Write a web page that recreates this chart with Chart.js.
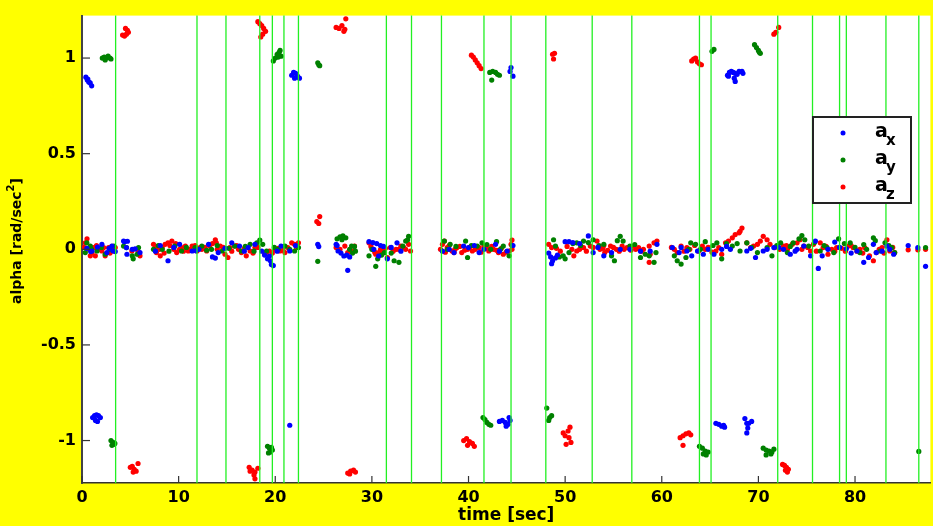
<!DOCTYPE html>
<html lang="en">
<head>
<meta charset="UTF-8" />
<title>alpha vs time</title>
<script src="https://cdn.jsdelivr.net/npm/chart.js"></script>
<style>
  html, body { margin: 0; padding: 0; background: #ffff00; }
  canvas { display: block; }
</style>
</head>
<body>
<canvas id="chart" width="933" height="526"></canvas>
<script>
// axis ticks
const xTicks = [0, 10, 20, 30, 40, 50, 60, 70, 80];
const yTicks = [-1, -0.5, 0, 0.5, 1];

// segment boundaries (green vertical lines), seconds
const segmentTimes = [3.48, 11.9, 14.9, 18.4, 19.7, 20.9, 22.4, 31.5, 34.1, 37.2, 41.6, 44.4,
  48.0, 52.8, 56.9, 63.9, 65.1, 72.0, 75.6, 78.4, 79.1, 83.2, 86.6];

// [time, alpha] samples
const ax = [
  [0.4,0.90],[0.55,0.885],[0.7,0.875],[0.85,0.87],[1.0,0.855],[0.6,0.89],
  [21.7,0.91],[21.9,0.925],[22.1,0.92],[22.3,0.905],[22.0,0.895],[22.5,0.895],
  [44.4,0.95],[44.3,0.93],[44.6,0.905],
  [66.8,0.91],[67.0,0.925],[67.2,0.93],[67.4,0.925],[67.6,0.92],[67.8,0.915],[68.0,0.93],[68.3,0.93],[67.5,0.895],[66.9,0.905],[68.4,0.92],[67.6,0.878],
  [1.1,-0.88],[1.3,-0.87],[1.5,-0.865],[1.7,-0.87],[1.4,-0.895],[1.6,-0.9],[1.9,-0.88],[21.5,-0.92],
  [43.2,-0.9],[43.5,-0.895],[43.8,-0.905],[44.1,-0.915],[44.3,-0.895],[44.2,-0.88],[43.9,-0.925],
  [65.6,-0.91],[65.9,-0.915],[66.2,-0.925],[66.5,-0.93],[66.4,-0.92],
  [68.6,-0.885],[68.8,-0.91],[69.0,-0.91],[69.3,-0.9],[68.9,-0.935],[68.8,-0.96],
  [2.06,0.026],[3.1,0.017],[3.44,-0.012],[1.03,-0.009],[2.58,-0.017],[0.9,-0.012],[3.2,-0.008],
  [0.5,0.005],[1.6,0.012],[2.8,0.005],
  [4.4,0.04],[4.7,0.042],[4.3,0.043],[4.6,0.009],[5.2,0.0],[5.5,0.002],[6.0,-0.017],[4.65,-0.026],
  [8.1,0.02],[8.9,-0.06],[10.1,0.026],[11.4,-0.009],[11.8,-0.008],[13.1,0.026],[13.5,-0.04],[13.8,-0.046],[14.1,-0.017],
  [15.5,0.034],[16.3,0.017],[17.2,0.009],[17.9,0.026],
  [7.6,-0.01],[9.5,0.01],[12.1,0.0],[14.8,0.005],[16.8,-0.01],
  [18.6,-0.01],[18.9,-0.03],[19.2,-0.05],[19.5,-0.06],[19.6,-0.08],[19.8,-0.085],[19.4,-0.035],[20.6,0.017],[21.5,-0.009],
  [20.2,-0.01],[22.1,0.02],
  [24.4,0.026],[24.5,0.014],
  [26.3,0.026],[26.4,0.02],[26.5,-0.009],[26.8,-0.02],[27.1,-0.035],[27.4,-0.03],[27.7,-0.04],[27.5,-0.11],
  [29.7,0.04],[30.1,0.035],[30.5,0.03],[30.9,0.02],[31.2,0.015],[31.6,-0.05],[32.6,0.034],[33.0,-0.01],[30.7,-0.035],
  [30.2,0.0],[32.0,0.01],
  [37.3,-0.01],[38.5,-0.017],[39.5,0.017],[40.0,0.009],[41.1,-0.017],[42.8,0.026],[44.0,-0.009],
  [38.0,0.0],[40.6,0.02],[41.6,0.0],[43.2,-0.01],[44.6,0.02],
  [48.3,-0.02],[48.5,-0.04],[48.7,-0.06],[48.6,-0.075],[49.0,-0.045],[49.2,-0.03],
  [50.0,0.04],[50.4,0.04],[50.8,0.035],[52.4,0.07],[52.9,-0.017],[54.0,-0.034],[54.8,-0.017],[56.7,0.0],[57.8,-0.01],
  [51.5,0.03],[53.4,0.01],[55.7,0.0],
  [58.8,-0.01],[59.5,0.026],
  [61.1,0.009],[61.8,-0.017],[62.6,-0.009],[63.1,-0.034],[63.7,-0.009],[64.3,-0.026],[65.4,-0.026],[66.2,0.0],[67.1,0.0],
  [68.8,-0.009],[69.7,-0.043],[70.5,-0.009],[71.6,0.009],[72.6,0.0],[73.3,-0.026],[74.0,0.0],[74.7,0.017],[75.4,-0.034],
  [75.9,0.043],[76.2,-0.1],[76.6,-0.034],[77.2,0.0],[77.9,0.038],[79.1,0.003],[80.2,-0.009],[80.9,-0.068],[81.4,-0.043],
  [81.9,0.026],[82.2,-0.017],[83.3,0.017],[84.0,-0.026],
  [62.0,0.01],[64.8,0.0],[66.7,0.015],[69.2,0.005],[70.9,0.0],[72.1,0.01],[73.8,-0.01],[78.4,0.01],[79.6,-0.02],[82.8,-0.01],[83.6,0.0],
  [85.5,0.02],[86.5,0.009],[87.3,-0.089]
];

const ay = [
  [2.1,1.0],[2.3,1.005],[2.5,1.0],[2.7,1.01],[2.9,1.0],[3.0,0.995],[2.4,0.99],
  [19.8,0.985],[20.0,1.0],[20.2,1.02],[20.4,1.03],[20.5,1.04],[20.6,1.01],[20.3,1.005],
  [24.4,0.975],[24.6,0.96],[24.5,0.965],
  [42.2,0.925],[42.5,0.93],[42.8,0.925],[43.0,0.915],[43.2,0.91],[42.4,0.885],
  [65.2,1.035],[65.4,1.045],
  [69.6,1.07],[69.8,1.055],[70.0,1.04],[70.1,1.03],[70.2,1.025],
  [3.0,-1.0],[3.2,-1.01],[3.3,-1.02],[3.1,-1.025],[3.4,-1.015],
  [19.2,-1.03],[19.4,-1.04],[19.6,-1.035],[19.5,-1.06],[19.7,-1.05],[19.3,-1.065],
  [41.5,-0.88],[41.7,-0.89],[41.9,-0.905],[42.1,-0.915],[42.3,-0.92],
  [48.1,-0.83],[48.4,-0.88],[48.6,-0.87],[48.3,-0.895],
  [63.9,-1.03],[64.2,-1.04],[64.5,-1.055],[64.8,-1.06],[64.3,-1.07],[64.6,-1.075],
  [70.5,-1.04],[70.8,-1.05],[71.1,-1.055],[71.4,-1.06],[71.6,-1.045],[70.8,-1.075],[71.3,-1.07],
  [86.6,-1.057],
  [0.34,-0.017],[0.86,0.017],[1.55,-0.009],[2.4,-0.026],[2.9,0.0],[3.3,0.017],[0.5,0.034],[1.0,0.0],[2.0,0.01],
  [4.3,0.017],[4.6,0.009],[5.2,-0.034],[5.3,-0.05],[5.85,0.009],[5.7,-0.026],
  [7.4,0.0],[8.3,0.0],[9.6,0.017],[10.3,-0.009],[11.7,0.009],[12.4,0.017],[13.4,0.0],[14.5,-0.009],[15.8,0.017],
  [16.5,-0.009],[17.4,0.026],[18.1,0.034],[18.4,0.048],
  [7.9,0.02],[9.0,-0.01],[10.8,0.01],[12.9,-0.005],[14.0,0.02],[15.2,0.005],[16.9,0.015],[17.8,-0.01],
  [18.7,0.026],[19.1,-0.009],[20.3,0.0],[21.0,0.017],[22.0,-0.009],[22.4,0.009],[19.9,0.01],[21.5,0.0],
  [24.4,-0.063],
  [26.4,0.055],[26.7,0.065],[27.0,0.07],[27.3,0.06],[26.9,0.05],[27.7,0.0],[28.0,-0.02],[28.3,-0.01],[28.2,0.015],[27.9,0.017],
  [29.7,-0.034],[30.6,-0.05],[30.4,-0.089],[31.3,-0.017],[32.3,-0.06],[32.8,-0.068],[33.2,0.017],[33.5,0.043],[33.8,0.068],[33.7,0.05],
  [30.0,0.0],[31.0,-0.03],[32.0,-0.02],
  [37.5,0.043],[38.1,0.026],[39.7,0.043],[39.9,-0.043],[40.9,0.017],[41.4,0.034],[42.3,0.0],[43.6,0.017],[44.2,-0.034],
  [37.8,0.0],[38.7,0.015],[40.3,0.02],[41.9,0.025],[42.9,0.04],[43.3,0.0],[44.5,0.02],
  [48.8,0.05],[49.0,0.017],[49.8,-0.034],[50.0,-0.05],[50.4,-0.017],[51.2,0.034],[51.9,0.043],[52.9,0.05],[54.0,0.026],
  [54.8,-0.034],[55.1,-0.06],[55.7,0.068],[56.0,0.043],[56.7,0.017],[57.8,-0.043],[58.3,-0.026],
  [49.4,-0.04],[50.8,0.03],[51.6,0.02],[52.4,0.035],[53.5,0.02],[55.4,0.045],[57.2,0.025],
  [58.7,-0.034],[59.4,-0.017],[59.2,-0.068],
  [61.3,-0.034],[61.6,-0.06],[62.0,-0.077],[62.5,-0.043],[63.0,0.034],[63.5,0.026],[64.0,0.0],[65.7,0.034],[66.2,-0.05],
  [67.3,0.017],[68.1,-0.009],[68.8,0.034],[69.9,-0.017],[70.9,0.009],[71.4,-0.034],[72.3,0.034],[73.0,-0.017],[73.6,0.034],
  [74.5,0.072],[74.8,0.05],[75.2,0.017],[76.4,-0.009],[77.1,0.009],[77.8,-0.017],[78.3,0.055],[79.5,0.034],[80.5,-0.017],
  [81.2,0.0],[81.9,0.06],[82.6,-0.009],[83.1,0.034],[83.8,0.009],[84.1,-0.017],
  [62.8,0.0],[64.5,0.04],[65.3,0.02],[66.7,0.03],[67.8,0.03],[69.3,0.01],[71.9,0.02],[73.3,0.015],[74.2,0.055],
  [75.8,0.035],[76.8,0.02],[78.9,0.03],[80.0,0.01],[80.9,0.025],[82.1,0.045],[83.5,0.02],
  [87.3,0.009]
];

const az = [
  [4.2,1.12],[4.4,1.115],[4.6,1.125],[4.8,1.135],[4.5,1.155],[4.7,1.145],
  [18.2,1.19],[18.4,1.18],[18.6,1.17],[18.8,1.155],[19.0,1.14],[18.7,1.125],[18.5,1.11],
  [26.3,1.16],[26.6,1.155],[26.9,1.17],[27.1,1.14],[27.2,1.15],[27.3,1.205],
  [40.3,1.015],[40.5,1.005],[40.7,0.99],[40.9,0.975],[41.1,0.96],[41.3,0.945],
  [48.7,1.02],[48.9,1.025],[48.8,0.995],
  [63.1,0.985],[63.3,0.995],[63.5,1.0],[63.7,0.98],[63.9,0.97],[64.1,0.965],
  [71.6,1.125],[71.8,1.135],[72.1,1.16],
  [5.0,-1.14],[5.2,-1.135],[5.4,-1.15],[5.6,-1.16],[5.8,-1.12],[5.3,-1.165],
  [17.3,-1.14],[17.6,-1.155],[17.9,-1.165],[18.2,-1.145],[17.8,-1.18],[17.9,-1.2],[17.4,-1.16],
  [27.5,-1.17],[27.8,-1.16],[28.1,-1.155],[28.3,-1.165],[27.7,-1.175],
  [39.5,-1.0],[39.8,-0.99],[40.1,-1.005],[40.4,-1.015],[40.6,-1.03],[39.9,-1.025],
  [49.8,-0.96],[50.0,-0.975],[50.3,-0.95],[50.5,-0.93],[50.1,-1.02],[50.6,-1.01],[50.4,-0.985],
  [61.9,-0.985],[62.2,-0.975],[62.5,-0.965],[62.8,-0.96],[63.0,-0.97],[62.2,-1.025],
  [72.5,-1.125],[72.7,-1.13],[72.9,-1.14],[73.1,-1.15],[73.0,-1.165],[72.8,-1.155],
  [0.52,0.055],[0.34,0.034],[0.69,0.0],[1.03,-0.017],[1.38,-0.034],[1.72,0.0],[2.06,-0.009],[2.4,-0.034],[2.75,0.009],
  [3.27,-0.009],[3.44,0.009],[1.2,0.009],[2.24,0.009],[0.86,-0.034],
  [0.2,0.01],[1.5,0.02],[2.9,-0.02],[3.1,0.015],
  [5.16,-0.009],[5.7,0.0],[5.9,-0.017],[6.0,-0.034],
  [7.4,0.026],[7.7,-0.017],[8.1,-0.034],[8.6,0.026],[8.9,0.034],[9.3,0.043],[9.5,0.0],[9.8,-0.017],[10.1,0.0],
  [10.7,0.017],[11.0,-0.009],[11.4,0.017],[11.9,-0.009],[12.4,0.0],[12.9,-0.009],[13.2,0.017],[13.8,0.05],[13.9,0.034],
  [14.3,0.017],[14.8,-0.026],[15.1,-0.043],[15.3,0.009],[15.8,0.017],[16.2,0.0],[16.5,-0.017],[17.0,-0.034],[17.4,-0.009],
  [17.9,0.009],[8.3,0.009],[10.3,0.009],[12.2,0.009],
  [7.6,0.01],[8.0,0.0],[8.5,-0.02],[9.1,0.02],[9.7,0.03],[10.5,-0.01],[11.2,0.0],[11.7,0.02],[12.7,0.01],[13.5,0.03],
  [14.0,0.0],[14.6,0.01],[15.5,-0.01],[16.0,0.02],[16.8,0.005],[17.7,-0.02],[18.2,0.01],
  [18.9,-0.026],[19.4,-0.009],[20.0,0.0],[20.5,-0.009],[21.0,-0.017],[21.7,0.034],[22.0,0.026],[22.4,0.034],[21.3,0.009],
  [19.1,-0.015],[19.7,-0.02],[20.3,0.005],[20.8,-0.005],[22.2,0.01],
  [24.6,0.171],[24.3,0.145],[24.5,0.135],
  [26.3,0.009],[26.7,0.0],[27.2,0.017],[27.5,-0.017],[28.2,0.017],[28.0,-0.009],
  [29.7,0.034],[30.1,0.0],[30.4,-0.026],[30.7,-0.017],[31.1,-0.009],[31.6,-0.043],[31.9,0.009],[32.5,0.0],[33.0,0.017],
  [33.3,0.009],[33.8,0.026],[34.0,-0.009],[31.3,-0.017],
  [29.9,0.015],[30.3,-0.015],[30.9,0.0],[31.4,0.005],[32.2,-0.01],[32.8,0.0],[33.5,0.0],
  [37.3,0.026],[37.5,0.043],[37.8,0.009],[38.3,-0.009],[38.8,0.009],[39.3,-0.017],[39.9,0.0],[40.4,-0.009],[41.1,0.009],
  [41.6,0.017],[42.1,-0.009],[42.6,0.0],[43.1,-0.017],[43.6,-0.026],[44.2,-0.009],[44.5,0.048],[44.4,0.026],[38.5,-0.017],
  [37.1,0.0],[37.6,-0.015],[38.0,0.02],[38.6,0.0],[39.1,0.015],[39.6,-0.005],[40.1,0.01],[40.7,0.0],[41.3,-0.015],
  [41.9,0.005],[42.4,0.015],[42.9,-0.005],[43.4,0.005],[43.9,-0.015],[44.5,0.0],
  [48.3,0.026],[48.6,0.009],[50.7,0.0],[51.2,-0.009],[51.9,0.009],[52.6,0.017],[53.3,0.043],[53.6,0.0],[54.1,-0.017],
  [54.7,0.017],[55.3,0.0],[55.9,0.017],[56.4,0.009],[57.1,0.017],[57.6,0.009],[58.1,0.0],[50.9,-0.034],[54.0,0.02],
  [49.1,0.005],[49.5,-0.01],[50.2,0.015],[51.5,0.0],[52.2,-0.01],[52.9,0.01],[53.9,0.005],[54.4,-0.005],[55.0,0.01],
  [55.6,-0.01],[56.1,0.0],[56.8,-0.005],[57.3,0.0],[57.9,-0.01],
  [58.7,0.017],[59.2,0.034],[59.5,0.043],[58.8,-0.026],[58.7,-0.068],
  [61.3,0.0],[61.6,-0.017],[62.0,0.017],[62.6,0.009],[64.2,0.017],[64.5,0.0],[65.6,-0.009],[65.9,0.009],[66.2,-0.026],
  [66.6,0.034],[66.9,0.043],[67.3,0.06],[67.6,0.077],[68.0,0.086],[68.3,0.111],[68.1,0.094],[68.8,0.034],[69.2,0.009],
  [69.5,0.017],[69.9,0.026],[70.2,0.043],[70.5,0.068],[70.9,0.05],[71.2,0.026],[71.7,0.009],[72.6,0.017],[73.0,0.0],
  [73.5,0.026],[74.0,0.034],[74.3,0.05],[74.7,0.017],[75.4,-0.009],[75.7,0.026],[76.4,0.034],[76.7,0.009],[77.2,-0.026],
  [77.6,0.0],[78.1,0.009],[79.3,0.017],[79.8,0.009],[80.5,0.0],[81.0,0.009],[81.5,-0.034],[81.9,-0.06],[82.2,-0.017],
  [82.8,0.009],[83.3,0.05],[83.6,-0.009],[84.1,-0.017],
  [61.0,0.01],[62.3,-0.01],[62.9,0.0],[63.4,0.02],[63.8,-0.01],[64.8,0.01],[65.2,-0.015],[72.2,0.0],[72.9,0.02],
  [74.5,0.0],[75.1,0.01],[76.0,-0.01],[77.0,0.015],[77.9,-0.01],[78.6,0.005],[79.0,-0.01],[79.6,0.02],[80.2,-0.01],
  [80.8,-0.02],[82.5,0.0],[83.0,-0.02],[83.9,0.01],
  [85.5,-0.003],[86.5,-0.003],[87.3,0.0]
];

const seriesColors = ['#0000ff', '#008000', '#ff0000'];
const seriesSubs = ['x', 'y', 'z'];

const FONT = 'DejaVu Sans';

function toPoints(arr) { return arr.map(p => ({ x: p[0], y: p[1] })); }

const decorations = {
  id: 'decorations',
  beforeDraw(chart) {
    const { ctx, chartArea: a } = chart;
    ctx.save();
    ctx.fillStyle = '#ffffff';
    ctx.fillRect(a.left, a.top, a.right - a.left, a.bottom - a.top);
    ctx.restore();
  },
  afterDatasetsDraw(chart) {
    const { ctx, chartArea: a, scales: { x, y } } = chart;
    ctx.save();
    // segment lines
    ctx.strokeStyle = '#22f022';
    ctx.lineWidth = 1.3;
    segmentTimes.forEach(t => {
      const px = x.getPixelForValue(t);
      ctx.beginPath(); ctx.moveTo(px, a.top); ctx.lineTo(px, a.bottom); ctx.stroke();
    });
    // inward tick marks
    ctx.strokeStyle = '#333';
    ctx.lineWidth = 1.2;
    xTicks.forEach(v => {
      const px = x.getPixelForValue(v);
      ctx.beginPath(); ctx.moveTo(px, a.bottom); ctx.lineTo(px, a.bottom - 7); ctx.stroke();
    });
    yTicks.forEach(v => {
      const py = y.getPixelForValue(v);
      ctx.beginPath(); ctx.moveTo(a.left, py); ctx.lineTo(a.left + 8, py); ctx.stroke();
    });
    // legend
    const bx = 813, by = 117, bw = 98, bh = 86;
    ctx.fillStyle = '#fff';
    ctx.fillRect(bx, by, bw, bh);
    ctx.strokeStyle = '#222';
    ctx.lineWidth = 2;
    ctx.strokeRect(bx, by, bw, bh);
    seriesColors.forEach((c, i) => {
      const rowY = 133 + i * 27;
      ctx.fillStyle = c;
      ctx.beginPath(); ctx.arc(843, rowY, 2.5, 0, Math.PI * 2); ctx.fill();
      ctx.fillStyle = '#000';
      ctx.textAlign = 'left';
      ctx.textBaseline = 'alphabetic';
      ctx.font = `bold 19px "${FONT}"`;
      ctx.fillText('a', 875, rowY + 4);
      ctx.font = `bold 15px "${FONT}"`;
      ctx.fillText(seriesSubs[i], 886, rowY + 12);
    });
    ctx.restore();
  },
  afterDraw(chart) {
    const { ctx } = chart;
    ctx.save();
    ctx.translate(21, 241);
    ctx.rotate(-Math.PI / 2);
    ctx.fillStyle = '#000';
    ctx.textBaseline = 'alphabetic';
    ctx.textAlign = 'left';
    const main = 'alpha [rad/sec';
    ctx.font = `bold 14px "${FONT}"`;
    const w1 = ctx.measureText(main).width;
    const w3 = ctx.measureText(']').width;
    ctx.font = `bold 10px "${FONT}"`;
    const w2 = ctx.measureText('2').width;
    const sx = -(w1 + w2 + w3) / 2;
    ctx.font = `bold 14px "${FONT}"`;
    ctx.fillText(main, sx, 0);
    ctx.font = `bold 10px "${FONT}"`;
    ctx.fillText('2', sx + w1, -7);
    ctx.font = `bold 14px "${FONT}"`;
    ctx.fillText(']', sx + w1 + w2, 0);
    ctx.restore();
  }
};

const pointStyle = { pointRadius: 2.6, pointHoverRadius: 2.6, pointBorderWidth: 0, showLine: false };

new Chart(document.getElementById('chart').getContext('2d'), {
  type: 'scatter',
  data: {
    datasets: [
      { label: 'ax', data: toPoints(ax), backgroundColor: seriesColors[0], ...pointStyle },
      { label: 'ay', data: toPoints(ay), backgroundColor: seriesColors[1], ...pointStyle },
      { label: 'az', data: toPoints(az), backgroundColor: seriesColors[2], ...pointStyle }
    ]
  },
  options: {
    responsive: false,
    animation: false,
    layout: { padding: { top: 7, right: 0, left: 0, bottom: 0 } },
    plugins: { legend: { display: false }, tooltip: { enabled: false } },
    scales: {
      x: {
        type: 'linear', min: 0, max: 87.8,
        afterBuildTicks: s => { s.ticks = xTicks.map(v => ({ value: v })); },
        afterFit: s => { s.height = 43; },
        grid: { display: false, drawTicks: false },
        border: { display: true, color: '#333', width: 1.5 },
        ticks: { color: '#000', font: { family: FONT, weight: 'bold', size: 16 }, padding: 5, maxRotation: 0, autoSkip: false },
        title: { display: true, text: 'time [sec]', color: '#000', font: { family: FONT, weight: 'bold', size: 17 }, padding: 0 }
      },
      y: {
        type: 'linear', min: -1.222, max: 1.222,
        afterBuildTicks: s => { s.ticks = yTicks.map(v => ({ value: v })); },
        afterFit: s => { s.width = 82; },
        grid: { display: false, drawTicks: false },
        border: { display: true, color: '#444', width: 2 },
        ticks: { color: '#000', font: { family: FONT, weight: 'bold', size: 16 }, padding: 6, callback: v => String(v) }
      }
    }
  },
  plugins: [decorations]
});
</script>
</body>
</html>
